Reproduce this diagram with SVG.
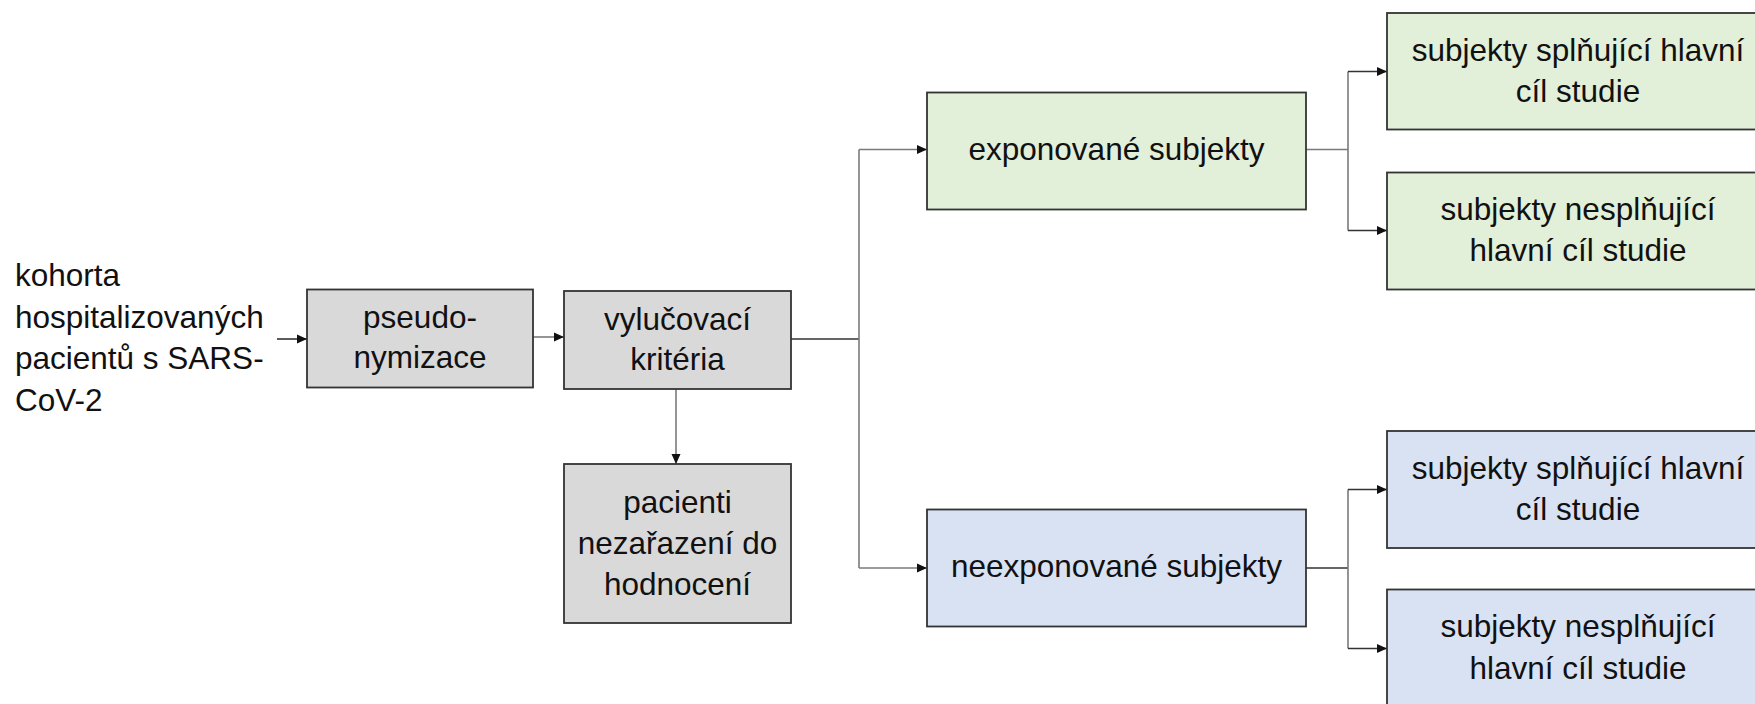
<svg xmlns="http://www.w3.org/2000/svg" width="1755" height="704" viewBox="0 0 1755 704">
<style>
text{font-family:"Liberation Sans",Arial,sans-serif;font-size:31.5px;fill:#111;text-anchor:middle}
.lt{text-anchor:start}
.box{stroke:#333;stroke-width:1.8}
.gray{fill:#d9d9d9}
.green{fill:#e2efd9}
.blue{fill:#d9e2f3}
.con path{fill:none;stroke:#7a7a7a;stroke-width:1.6}
.con path.dk{stroke:#333}
</style>
<defs>
<marker id="ah" markerUnits="userSpaceOnUse" markerWidth="10" markerHeight="10" refX="10" refY="5" orient="auto">
<path d="M0,0.5 L10,5 L0,9.5 z" fill="#111"/>
</marker>
</defs>
<rect width="1755" height="704" fill="#fff"/>
<g id="kohorta">
<text class="lt" x="15" y="286">kohorta</text>
<text class="lt" x="15" y="328">hospitalizovaných</text>
<text class="lt" x="15" y="369">pacientů s SARS-</text>
<text class="lt" x="15" y="411">CoV-2</text>
</g>
<g class="con" id="connectors">
<path class="dk" d="M277,339 H307" marker-end="url(#ah)"/>
<path d="M533,337 H564" marker-end="url(#ah)"/>
<path class="dk" d="M791,339 H859"/>
<path d="M859,149.5 V568"/>
<path d="M859,149.5 H927" marker-end="url(#ah)"/>
<path d="M859,568 H927" marker-end="url(#ah)"/>
<path d="M676,389 V464" marker-end="url(#ah)"/>
<path d="M1306,149.5 H1348"/>
<path d="M1348,71.5 V230.5"/>
<path class="dk" d="M1348,71.5 H1387" marker-end="url(#ah)"/>
<path class="dk" d="M1348,230.5 H1387" marker-end="url(#ah)"/>
<path class="dk" d="M1306,568 H1348"/>
<path d="M1348,489.5 V648.5"/>
<path class="dk" d="M1348,489.5 H1387" marker-end="url(#ah)"/>
<path class="dk" d="M1348,648.5 H1387" marker-end="url(#ah)"/>
</g>
<g id="pseudo">
<rect class="box gray" x="307" y="289.5" width="226" height="98"/>
<text x="420" y="328">pseudo-</text>
<text x="420" y="367.5">nymizace</text>
</g>
<g id="vylucovaci">
<rect class="box gray" x="564" y="291" width="227" height="98"/>
<text x="677.5" y="329.5">vylučovací</text>
<text x="677.5" y="369.5">kritéria</text>
</g>
<g id="nezarazeni">
<rect class="box gray" x="564" y="464" width="227" height="159"/>
<text x="677.5" y="512.5">pacienti</text>
<text x="677.5" y="553.5">nezařazení do</text>
<text x="677.5" y="594.5">hodnocení</text>
</g>
<g id="exponovane">
<rect class="box green" x="927" y="92.5" width="379" height="117"/>
<text x="1116.5" y="160">exponované subjekty</text>
</g>
<g id="neexponovane">
<rect class="box blue" x="927" y="509.5" width="379" height="117"/>
<text x="1116.5" y="577">neexponované subjekty</text>
</g>
<g id="exp-splnujici">
<rect class="box green" x="1387" y="13" width="385" height="116.5"/>
<text x="1578" y="60.5">subjekty splňující hlavní</text>
<text x="1578" y="101.5">cíl studie</text>
</g>
<g id="exp-nesplnujici">
<rect class="box green" x="1387" y="172.5" width="385" height="117"/>
<text x="1578" y="220">subjekty nesplňující</text>
<text x="1578" y="261">hlavní cíl studie</text>
</g>
<g id="neexp-splnujici">
<rect class="box blue" x="1387" y="431" width="385" height="117"/>
<text x="1578" y="478.5">subjekty splňující hlavní</text>
<text x="1578" y="519.5">cíl studie</text>
</g>
<g id="neexp-nesplnujici">
<rect class="box blue" x="1387" y="589.5" width="385" height="125"/>
<text x="1578" y="637">subjekty nesplňující</text>
<text x="1578" y="678.5">hlavní cíl studie</text>
</g>
</svg>
